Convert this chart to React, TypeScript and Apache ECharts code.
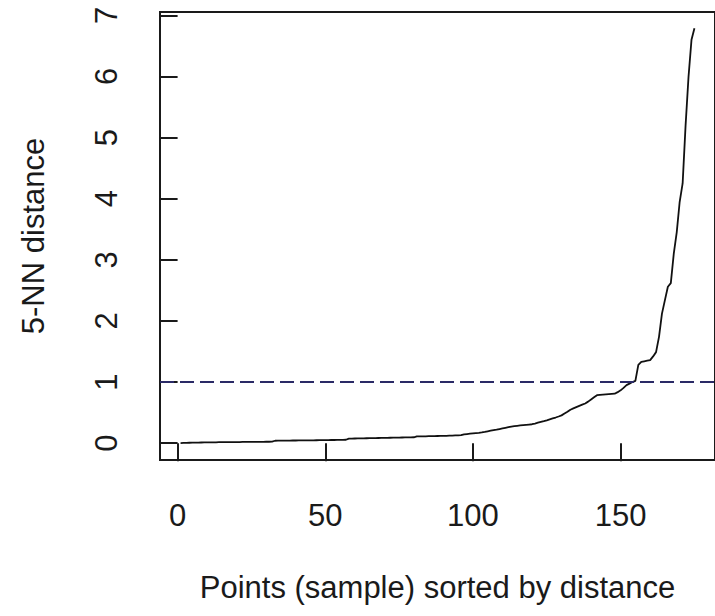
import React, { useEffect, useRef } from "react";
import * as echarts from "echarts";

const xTicks = [0, 50, 100, 150];
const yTicks = [0, 1, 2, 3, 4, 5, 6, 7];
const threshold = 1;
const xTitle = "Points (sample) sorted by distance";
const yTitle = "5-NN distance";

// sorted 5-NN distances, point index 1..175
const distances = [
  0.002, 0.004, 0.006, 0.007, 0.008, 0.009, 0.010, 0.011, 0.012, 0.013,
  0.014, 0.015, 0.015, 0.016, 0.016, 0.017, 0.017, 0.018, 0.018, 0.019,
  0.019, 0.020, 0.020, 0.021, 0.021, 0.022, 0.022, 0.023, 0.023, 0.024,
  0.024, 0.025, 0.040, 0.041, 0.042, 0.042, 0.043, 0.043, 0.044, 0.044,
  0.045, 0.045, 0.046, 0.046, 0.047, 0.047, 0.048, 0.049, 0.050, 0.050,
  0.051, 0.052, 0.052, 0.053, 0.054, 0.055, 0.056, 0.075, 0.076, 0.077,
  0.078, 0.079, 0.080, 0.081, 0.082, 0.083, 0.084, 0.085, 0.086, 0.087,
  0.088, 0.089, 0.090, 0.091, 0.092, 0.093, 0.094, 0.095, 0.096, 0.097,
  0.110, 0.111, 0.112, 0.113, 0.114, 0.115, 0.117, 0.118, 0.119, 0.120,
  0.121, 0.123, 0.125, 0.127, 0.129, 0.131, 0.145, 0.150, 0.155, 0.160,
  0.165, 0.170, 0.176, 0.185, 0.195, 0.205, 0.215, 0.222, 0.232, 0.242,
  0.252, 0.262, 0.272, 0.280, 0.285, 0.290, 0.295, 0.300, 0.305, 0.310,
  0.322, 0.335, 0.348, 0.361, 0.375, 0.390, 0.405, 0.420, 0.437, 0.455,
  0.485, 0.515, 0.548, 0.570, 0.590, 0.610, 0.630, 0.650, 0.680, 0.715,
  0.750, 0.785, 0.790, 0.794, 0.798, 0.802, 0.806, 0.810, 0.835, 0.865,
  0.905, 0.950, 0.975, 1.000, 1.020, 1.280, 1.330, 1.340, 1.350, 1.360,
  1.420, 1.490, 1.740, 2.120, 2.340, 2.560, 2.620, 3.100, 3.450, 3.950,
  4.250, 5.200, 6.000, 6.600, 6.790,
];

const FONT = "Liberation Sans, Arial, Helvetica, sans-serif";
const INK = "#1a1a1a";
const FS = 31;

export default function App() {
  const ref = useRef<HTMLDivElement>(null);

  useEffect(() => {
    if (!ref.current) return;
    const chart = echarts.init(ref.current, null, { renderer: "svg" });
    const points = distances.map((v, i) => [i + 1, v]);
    chart.setOption({
      animation: false,
      backgroundColor: "#ffffff",
      grid: {
        left: 160,
        top: 12,
        width: 562,
        height: 448,
        show: true,
        borderColor: INK,
        borderWidth: 2,
        containLabel: false,
      },
      xAxis: {
        type: "value",
        min: -5.96,
        max: 181.96,
        axisLine: { show: false },
        splitLine: { show: false },
        axisTick: {
          show: true,
          customValues: xTicks,
          length: 18,
          inside: false,
          lineStyle: { color: INK, width: 2 },
        },
        axisLabel: {
          customValues: xTicks,
          fontSize: FS,
          fontFamily: FONT,
          color: INK,
          margin: 40,
        },
        name: xTitle,
        nameLocation: "middle",
        nameGap: 112,
        nameTextStyle: { fontSize: FS, fontFamily: FONT, color: INK },
      },
      yAxis: {
        type: "value",
        min: -0.275,
        max: 7.055,
        axisLine: { show: false },
        splitLine: { show: false },
        axisTick: {
          show: true,
          customValues: yTicks,
          length: 18,
          inside: false,
          lineStyle: { color: INK, width: 2 },
        },
        axisLabel: {
          customValues: yTicks,
          fontSize: FS,
          fontFamily: FONT,
          color: INK,
          rotate: 90,
          margin: 38,
        },
        name: yTitle,
        nameLocation: "middle",
        nameGap: 111,
        nameRotate: 90,
        nameTextStyle: { fontSize: FS, fontFamily: FONT, color: INK },
      },
      series: [
        {
          type: "line",
          data: points,
          showSymbol: false,
          symbol: "none",
          lineStyle: { color: "#111111", width: 1.8 },
          markLine: {
            silent: true,
            symbol: "none",
            label: { show: false },
            lineStyle: { color: "#2a2a66", width: 2, type: [14, 6] },
            data: [{ yAxis: threshold }],
          },
        },
      ],
    });
    return () => chart.dispose();
  }, []);

  return (
    <div
      ref={ref}
      style={{ position: "absolute", left: 0, top: 0, width: 715, height: 616 }}
    />
  );
}
